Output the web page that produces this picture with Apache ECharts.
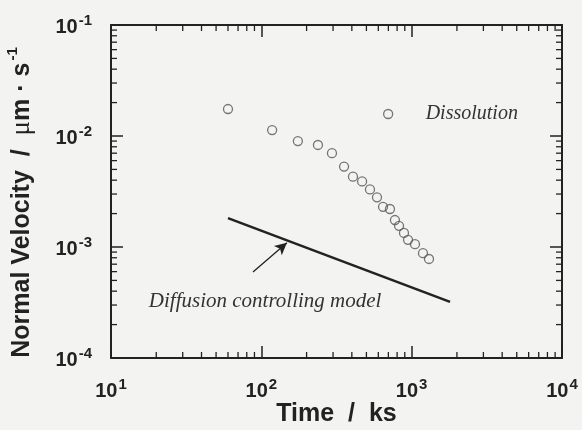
<!DOCTYPE html>
<html>
<head>
<meta charset="utf-8">
<script src="https://cdn.jsdelivr.net/npm/echarts@6/dist/echarts.min.js"></script>
<style>
  html, body { margin: 0; padding: 0; background: #f3f3f1; }
  #chart { width: 582px; height: 430px; }
</style>
</head>
<body>
<div id="chart"></div>
<script>
// 溶解实验数据 (Time / ks, Normal Velocity / um s^-1)
const dissolutionTime = [60, 118, 175, 238, 295, 355, 407, 468, 528, 588, 645, 717, 774, 824, 889, 946, 1052, 1189, 1304];
const dissolutionVelocity = [0.0175, 0.0113, 0.0090, 0.0083, 0.0070, 0.0053, 0.0043, 0.0039, 0.0033, 0.0028, 0.0023, 0.0022, 0.00175, 0.00155, 0.00134, 0.00116, 0.00106, 0.00088, 0.00078];

// 扩散控制模型直线
const modelTime = [60, 1800];
const modelVelocity = [0.00182, 0.00032];

// 注释箭头和文字
const arrowFrom = [88, 0.000595];
const arrowTo = [148, 0.00109];
const modelLabelAt = [106, 0.000322];
const modelLabel = 'Diffusion controlling model';

// 坐标轴范围和次刻度
const xRange = [10, 10000];
const yRange = [0.0001, 0.1];
const minorFactors = [2, 3, 4, 5, 6, 7, 8, 9];
const xDecades = [10, 100, 1000];
const yDecades = [0.0001, 0.001, 0.01];

const chart = echarts.init(document.getElementById('chart'));

const ink = '#222';
const labelRich = {
  b: { fontFamily: 'Liberation Sans', fontWeight: 'bold', fontSize: 20, color: ink, lineHeight: 24, verticalAlign: 'bottom' },
  s: { fontFamily: 'Liberation Sans', fontWeight: 'bold', fontSize: 15, color: ink, lineHeight: 15, verticalAlign: 'top', padding: [0, 0, 0, 1] }
};
function powLabel(value) {
  const e = Math.round(Math.log10(value));
  return '{b|10}{s|' + e + '}';
}

const minorData = [];
xDecades.forEach(d => minorFactors.forEach(f => minorData.push([d * f, yRange[0], 0])));
yDecades.forEach(d => minorFactors.forEach(f => minorData.push([xRange[0], d * f, 1])));

function logAxis(range, position, showLabel, extra) {
  return Object.assign({
    type: 'log',
    logBase: 10,
    min: range[0],
    max: range[1],
    position: position,
    axisLine: { show: true, onZero: false, lineStyle: { color: ink, width: 2 } },
    axisTick: { show: true, inside: true, length: 12, lineStyle: { color: ink, width: 1.5 } },
    splitLine: { show: false },
    axisLabel: showLabel ? { formatter: powLabel, rich: labelRich } : { show: false }
  }, extra || {});
}

const option = {
  backgroundColor: '#f3f3f1',
  animation: false,
  grid: { left: 111, right: 20, top: 25, bottom: 72, outerBoundsMode: 'none', containLabel: false },
  legend: {
    data: ['Dissolution'],
    left: 378,
    top: 99,
    itemWidth: 9,
    itemHeight: 9,
    icon: 'circle',
    itemStyle: { color: 'rgba(0,0,0,0)', borderColor: '#555', borderWidth: 1.3 },
    textStyle: {
      fontFamily: 'Liberation Serif', fontStyle: 'italic', fontSize: 20, color: '#333',
      padding: [0, 0, 0, 28]
    }
  },
  xAxis: [
    logAxis(xRange, 'bottom', true, {
      name: 'Time  /  ks',
      nameLocation: 'middle',
      nameGap: 44,
      nameMoveOverlap: false,
      nameTextStyle: { fontFamily: 'Liberation Sans', fontWeight: 'bold', fontSize: 25, color: ink },
      axisLabel: { formatter: powLabel, rich: labelRich, margin: 19 }
    }),
    logAxis(xRange, 'top', false)
  ],
  yAxis: [
    logAxis(yRange, 'left', true, {
      name: '{n|Normal Velocity  /  }{u|μ}{n|m · s}{s|-1}',
      nameLocation: 'middle',
      nameGap: 76,
      nameTextStyle: {
        padding: [0, 22, 0, 0],
        rich: {
          n: { fontFamily: 'Liberation Sans', fontWeight: 'bold', fontSize: 25, color: ink, lineHeight: 30, verticalAlign: 'bottom' },
          u: { fontFamily: 'Liberation Serif', fontSize: 27, color: ink, lineHeight: 30, verticalAlign: 'bottom' },
          s: { fontFamily: 'Liberation Sans', fontWeight: 'bold', fontSize: 15, color: ink, lineHeight: 16, verticalAlign: 'top', padding: [0, 0, 0, 2] }
        }
      },
      axisLabel: { formatter: powLabel, rich: labelRich, margin: 19 }
    }),
    logAxis(yRange, 'right', false)
  ],
  series: [
    {
      name: 'Dissolution',
      type: 'scatter',
      symbol: 'circle',
      symbolSize: 9,
      itemStyle: { color: 'rgba(0,0,0,0)', borderColor: '#555', borderWidth: 1.3 },
      data: dissolutionTime.map((t, i) => [t, dissolutionVelocity[i]]),
      z: 3
    },
    {
      name: 'Diffusion controlling model',
      type: 'line',
      showSymbol: false,
      lineStyle: { color: ink, width: 2.5 },
      data: modelTime.map((t, i) => [t, modelVelocity[i]]),
      markLine: {
        silent: true,
        symbol: ['none', 'arrow'],
        symbolSize: [9, 12],
        lineStyle: { color: ink, width: 1.3, type: 'solid' },
        label: { show: false },
        data: [[{ coord: arrowFrom }, { coord: arrowTo }]]
      },
      markPoint: {
        silent: true,
        symbolSize: 0,
        label: {
          show: true,
          formatter: modelLabel,
          fontFamily: 'Liberation Serif', fontStyle: 'italic', fontSize: 21, color: '#333'
        },
        data: [{ coord: modelLabelAt }]
      }
    },
    {
      // 对数次刻度 (四边向内)
      type: 'custom',
      silent: true,
      z: 5,
      data: minorData,
      renderItem: function (params, api) {
        const len = 6;
        const style = { stroke: ink, lineWidth: 1.3 };
        if (api.value(2) === 0) {
          const b = api.coord([api.value(0), yRange[0]]);
          const t = api.coord([api.value(0), yRange[1]]);
          return {
            type: 'group',
            children: [
              { type: 'line', shape: { x1: b[0], y1: b[1], x2: b[0], y2: b[1] - len }, style: style },
              { type: 'line', shape: { x1: t[0], y1: t[1], x2: t[0], y2: t[1] + len }, style: style }
            ]
          };
        }
        const l = api.coord([xRange[0], api.value(1)]);
        const r = api.coord([xRange[1], api.value(1)]);
        return {
          type: 'group',
          children: [
            { type: 'line', shape: { x1: l[0], y1: l[1], x2: l[0] + len, y2: l[1] }, style: style },
            { type: 'line', shape: { x1: r[0], y1: r[1], x2: r[0] - len, y2: r[1] }, style: style }
          ]
        };
      }
    }
  ]
};

chart.setOption(option);
</script>
</body>
</html>
